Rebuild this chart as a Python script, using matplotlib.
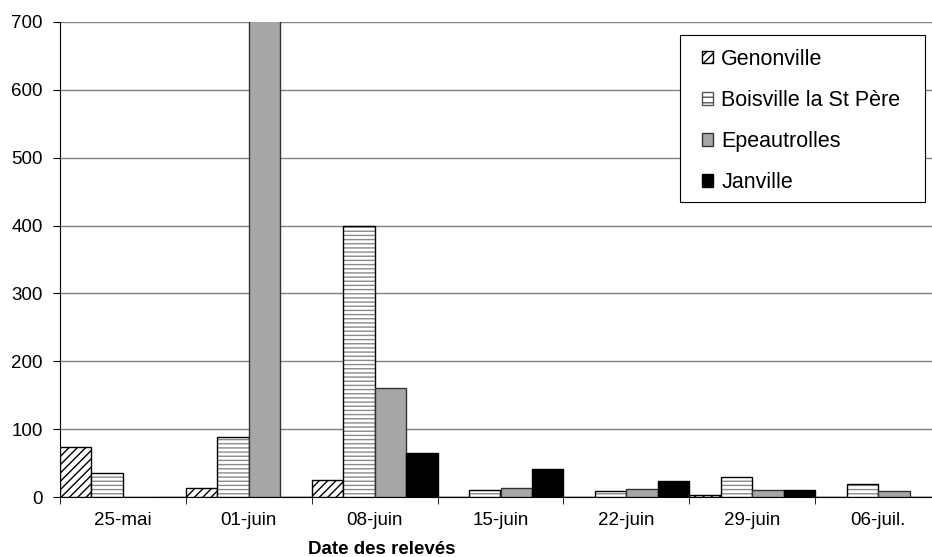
import numpy as np
import matplotlib.pyplot as plt
from matplotlib.patches import Patch, Rectangle

plt.rcParams['font.family'] = ['Liberation Sans', 'DejaVu Sans']
plt.rcParams['hatch.linewidth'] = 1.0

dates = ["25-mai", "01-juin", "08-juin", "15-juin", "22-juin", "29-juin", "06-juil."]
genonville = [74, 14, 25, 0, 0, 3, 0]
boisville = [36, 89, 400, 11, 9, 30, 19]
epeautrolles = [0, 710, 161, 13, 12, 10, 9]
janville = [0, 0, 65, 41, 23, 10, 0]

fig = plt.figure(figsize=(9.32, 5.57), dpi=100)
ax = fig.add_axes([60 / 932, 60 / 557, 881 / 932, 475 / 557])

x = np.arange(len(dates))
w = 0.25

ax.bar(x - 1.5 * w, genonville, w, color='white', edgecolor='black',
       hatch='////', linewidth=1, zorder=3)
ax.bar(x - 0.5 * w, boisville, w, color='white', edgecolor='#8a8a8a', hatch='----',
       linewidth=0, zorder=3)
ax.bar(x - 0.5 * w, boisville, w, color='none', edgecolor='black', linewidth=1, zorder=3)
ax.bar(x + 0.5 * w, epeautrolles, w, color='#a6a6a6', edgecolor='#333333',
       linewidth=1, zorder=3)
ax.bar(x + 1.5 * w, janville, w, color='black', edgecolor='black', linewidth=1, zorder=3)

ax.set_xlim(-0.5, len(dates) - 0.5)
ax.set_ylim(0, 700)
ax.set_yticks(range(0, 701, 100))
ax.yaxis.grid(True, color='#808080', linewidth=1)
ax.set_axisbelow(True)
ax.set_xticks(x)
ax.set_xticklabels(dates)
ax.set_xticks(np.arange(len(dates) + 1) - 0.5, minor=True)
ax.tick_params(axis='x', which='major', length=0, pad=11, labelsize=13.5)
ax.tick_params(axis='x', which='minor', length=5, color='black')
ax.tick_params(axis='y', length=5, labelsize=13.5, pad=7.5)
for s in ['top', 'right']:
    ax.spines[s].set_visible(False)
ax.spines['left'].set_color('black')
ax.spines['bottom'].set_color('black')

# legend box drawn by hand (Excel style padding)
ax.add_patch(Rectangle((680 / 932, 1 - 202 / 557), 245 / 932, 167 / 557,
                       transform=fig.transFigure, facecolor='white', clip_on=False,
                       edgecolor='black', linewidth=0.8, zorder=5))
handles = [
    Patch(facecolor='white', edgecolor='black', hatch='////', label='Genonville'),
    Patch(facecolor='white', edgecolor='#555555', hatch='---', label='Boisville la St Père'),
    Patch(facecolor='#a6a6a6', edgecolor='#333333', label='Epeautrolles'),
    Patch(facecolor='black', edgecolor='black', label='Janville'),
]
leg = ax.legend(handles=handles, loc='upper left', bbox_to_anchor=(702 / 932, 1 - 49 / 557),
                bbox_transform=fig.transFigure, fontsize=15.5, frameon=False,
                handlelength=0.5, handleheight=0.5, handletextpad=0.4,
                labelspacing=0.93, borderpad=0, borderaxespad=0)
leg.set_zorder(6)

fig.text(382 / 932, 1 - 541 / 557, "Date des relevés", ha='center', va='top',
         fontsize=13.5, fontweight='bold')

fig.savefig('out.png', dpi=100)
